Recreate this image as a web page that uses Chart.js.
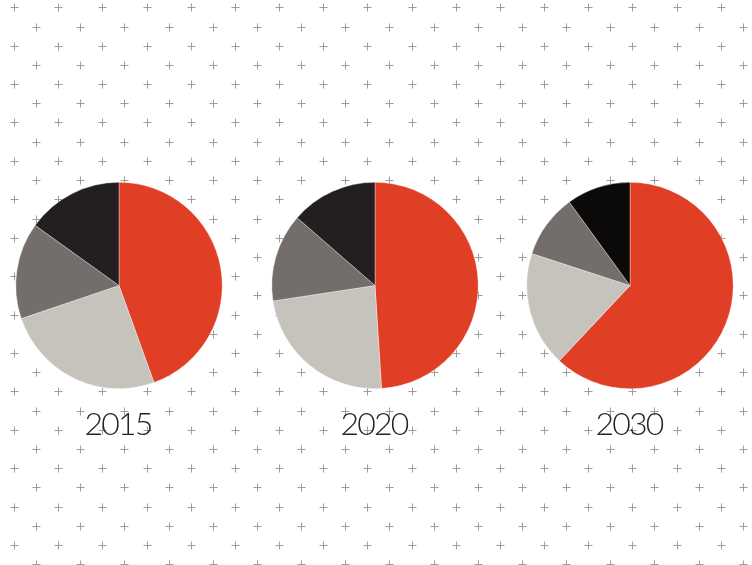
<!DOCTYPE html>
<html>
<head>
<meta charset="utf-8">
<script src="https://cdn.jsdelivr.net/npm/chart.js@4"></script>
<style>
  html, body { margin: 0; padding: 0; background: #fff; }
  #stage { position: relative; width: 752px; height: 565px; overflow: hidden; }
  #grid { position: absolute; left: 0; top: 0; }
  .pie { position: absolute; top: 182px; }
</style>
</head>
<body>
<div id="stage">
  <canvas id="grid" width="752" height="565"></canvas>
  <canvas class="pie" id="pie2015" width="238" height="260" style="left:0px"></canvas>
  <canvas class="pie" id="pie2020" width="238" height="260" style="left:256px"></canvas>
  <canvas class="pie" id="pie2030" width="238" height="260" style="left:511px"></canvas>
</div>
<script>
// data (percent shares, clockwise from 12 o'clock)
const years = ['2015', '2020', '2030'];
const segments = ['Segment 1', 'Segment 2', 'Segment 3', 'Segment 4'];
const share2015 = [44.5, 25.3, 15.1, 15.1];
const share2020 = [49, 23.6, 13.8, 13.6];
const share2030 = [62, 18, 10, 10];

const colors2015 = ['#e03e25', '#c6c2bc', '#736e6b', '#231f20'];
const colors2030 = ['#e03e25', '#c6c2bc', '#736e6b', '#0b0a08'];

// background of small crosses
function drawGrid() {
    const canvas = document.getElementById('grid');
    const ctx = canvas.getContext('2d');
    ctx.strokeStyle = '#9d9d9d';
    ctx.lineWidth = 1;
    ctx.beginPath();
    for (let k = 0; k < 30; k++) {
        const y = Math.round(7.3 + 19.2 * k) + 0.5;
        const x0 = k % 2 === 0 ? 14 : 36.1;
        for (let x = x0; x < 760; x += 44.17) {
            const cx = Math.round(x) + 0.5;
            ctx.moveTo(cx - 4, y);
            ctx.lineTo(cx + 4, y);
            ctx.moveTo(cx, y - 4);
            ctx.lineTo(cx, y + 4);
        }
    }
    ctx.stroke();
}
drawGrid();

// year under the pie, a bit tighter than the title plugin allows
const yearLabel = {
    id: 'yearLabel',
    afterDraw(chart, args, opts) {
        const { ctx, chartArea } = chart;
        ctx.save();
        ctx.font = '300 32px Lato, "Open Sans", sans-serif';
        ctx.letterSpacing = '-1.8px';
        ctx.fillStyle = '#262324';
        ctx.textAlign = 'center';
        ctx.textBaseline = 'alphabetic';
        const cx = (chartArea.left + chartArea.right) / 2 - 1;
        ctx.fillText(opts.text, cx, chartArea.bottom + 46);
        ctx.restore();
    }
};

function renderPie(canvasId, data, colors, year) {
    const canvas = document.getElementById(canvasId);
    if (!canvas) return;

    return new Chart(canvas.getContext('2d'), {
        type: 'pie',
        data: {
            labels: segments,
            datasets: [{
                data: data,
                backgroundColor: colors,
                borderColor: 'rgba(255,255,255,0.6)',
                borderWidth: 0.6
            }]
        },
        options: {
            responsive: false,
            animation: false,
            layout: { padding: { top: 0, left: 0, right: 0, bottom: 53 } },
            plugins: {
                legend: { display: false },
                tooltip: { enabled: false },
                yearLabel: { text: year }
            }
        },
        plugins: [yearLabel]
    });
}

renderPie('pie2015', share2015, colors2015, years[0]);
renderPie('pie2020', share2020, colors2015, years[1]);
renderPie('pie2030', share2030, colors2030, years[2]);
</script>
</body>
</html>
